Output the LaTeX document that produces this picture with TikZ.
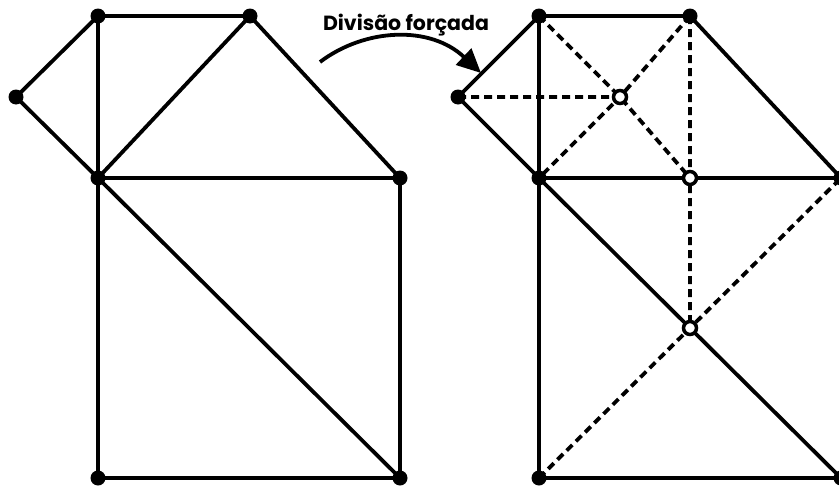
\documentclass[tikz,border=0pt]{standalone}
\usepackage{fontspec}
\setmainfont{Poppins}[UprightFont=* Bold]
\usetikzlibrary{arrows.meta}
\begin{document}
\begin{tikzpicture}[x=1pt,y=-1pt,
  edge/.style={line width=3.8pt},
  dashedge/.style={line width=3.8pt,dash pattern=on 8pt off 5pt},
  vtx/.style={circle,fill=black,inner sep=0pt,minimum size=15pt},
  ovtx/.style={circle,draw=black,fill=white,line width=3.5pt,inner sep=0pt,minimum size=13pt}]
\useasboundingbox (0,0) rectangle (839,490);
\clip (0,0) rectangle (839,490);
% left
\coordinate (A) at (98,16);
\coordinate (B) at (250,16);
\coordinate (C) at (16,97);
\coordinate (D) at (98,178);
\coordinate (E) at (400,178);
\coordinate (F) at (98,478);
\coordinate (G) at (400,478);
\draw[edge] (A)--(B) (C)--(A) (C)--(D) (A)--(D) (B)--(D) (B)--(E) (D)--(E) (D)--(F) (D)--(G) (E)--(G) (F)--(G);
\foreach \p in {A,B,C,D,E,F,G} \node[vtx] at (\p) {};
% right
\coordinate (A2) at (539,16);
\coordinate (B2) at (690,16);
\coordinate (C2) at (458,97);
\coordinate (D2) at (539,178);
\coordinate (E2) at (841,178);
\coordinate (F2) at (539,478);
\coordinate (G2) at (841,478);
\coordinate (X) at (620,97);
\coordinate (M) at (690,178);
\coordinate (N) at (690,328);
\draw[dashedge] (C2)--(X) (A2)--(X)--(M) (B2)--(X)--(D2) (B2)--(M)--(N) (F2)--(N)--(E2);
\draw[edge] (A2)--(B2) (C2)--(A2) (C2)--(D2) (A2)--(D2) (B2)--(E2) (D2)--(E2) (D2)--(F2) (D2)--(G2) (E2)--(G2) (F2)--(G2);
\foreach \p in {A2,B2,C2,D2,E2,F2,G2} \node[vtx] at (\p) {};
\foreach \p in {X,M,N} \node[ovtx] at (\p) {};
% arrow
\coordinate (s) at (320,62);
\coordinate (t) at (481,73);
\draw[line width=3.8pt,-{Triangle[length=24pt,width=22pt]}] (s) .. controls (365,28) and (430,25) .. (t);
\node[font=\fontsize{20.5}{24}\selectfont,inner sep=0pt,anchor=base] (lbl) at (406,30) {Divisão forçada};
\end{tikzpicture}
\end{document}
